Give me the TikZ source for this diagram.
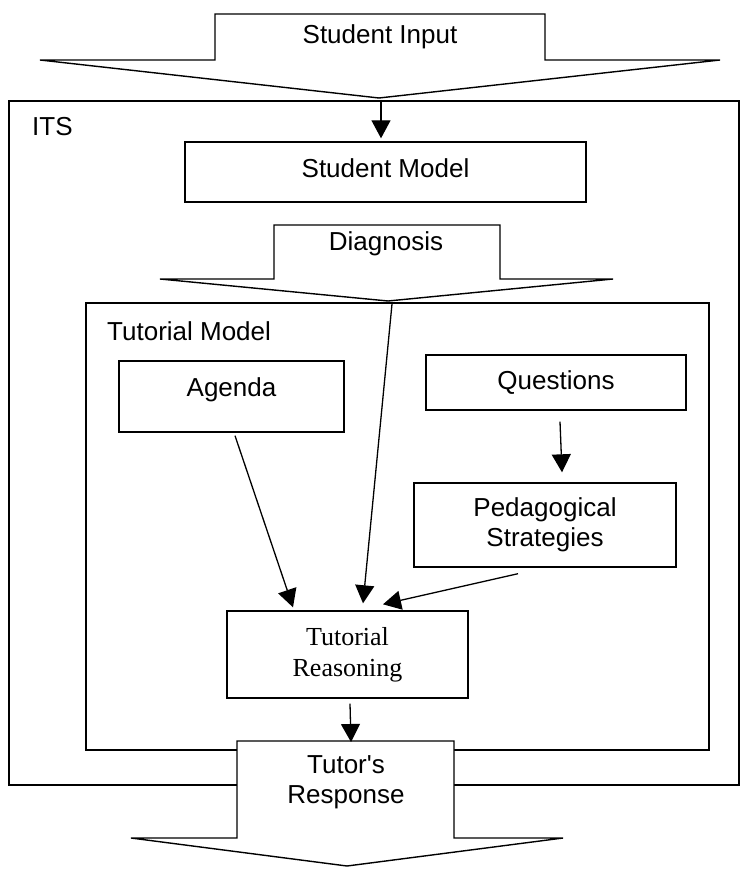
\documentclass[tikz,border=0pt]{standalone}
\usepackage{fontspec}
\setmainfont{Liberation Sans}
\newfontfamily\timesfont{Liberation Serif}
\usetikzlibrary{arrows.meta}

\begin{document}
\begin{tikzpicture}[x=1pt, y=-1pt,
		lbl/.style={font=\fontsize{26}{30}\selectfont, align=center, inner sep=0pt},
		box/.style={lbl, draw, line width=1.4pt, fill=white},
		frame/.style={draw, line width=1.4pt},
		blockarrow/.style={draw, line width=1.4pt, fill=white, line join=miter},
		arr/.style={line width=1.3pt, -{Triangle[length=18pt, width=19pt]}}]
		\useasboundingbox (0,0) rectangle (740,869);
		
		% Student input
		\draw[blockarrow] (215,14) -- (545,14) -- (545,60) -- (720,60) -- (379,98) -- (40,60) -- (215,60) -- cycle;
		\node[lbl] (input) at (380,37) {Student Input};
		\coordinate (inTip) at (381,100);
		
		% ITS frame
		\draw[frame] (9,101) rectangle (739,785);
		\node[lbl, anchor=west] (its) at (32,127) {ITS};
		
		\node[box, minimum width=401pt, text height=35.5pt, text depth=24.5pt] (stmodel) at (385.5,172) {Student Model};
		
		% Diagnosis
		\draw[blockarrow] (274,225) -- (500,225) -- (500,279) -- (613,279) -- (388,301) -- (160,279) -- (274,279) -- cycle;
		\node[lbl] (diag) at (386,244) {Diagnosis};
		\coordinate (diagTip) at (392,304);
		
		% Tutorial model frame
		\draw[frame] (86,303) rectangle (709,750);
		\node[lbl, anchor=west] (tmodel) at (107,331) {Tutorial Model};
		
		\node[box, minimum width=225pt, text height=35.5pt, text depth=35.5pt] (agenda) at (231.5,396.5) {Agenda};
		\node[box, minimum width=260pt, minimum height=55pt] (quest) at (556,382.5) {Questions};
		\node[box, minimum width=262pt, minimum height=84pt] (peda) at (545,525) {Pedagogical\\Strategies};
		\node[box, font=\timesfont\fontsize{26}{31}\selectfont, minimum width=241pt, minimum height=87pt] (treason) at (347.5,654.5) {Tutorial\\Reasoning};
		
		% Connectors
		\draw[arr] (inTip) -- ([shift={(-4.5,-3)}]stmodel.north);
		\draw[arr] ([shift={(4,11)}]quest.south) -- ([shift={(17,-10)}]peda.north);
		\draw[arr] ([shift={(3.5,3)}]agenda.south) -- ([shift={(-54.5,-3)}]treason.north);
		\draw[arr] (diagTip) -- ([shift={(15.5,-7)}]treason.north);
		\draw[arr] ([shift={(-27,6)}]peda.south) -- ([shift={(35.5,-6)}]treason.north);
		
		% Tutor's response
		\draw[blockarrow] (237,741) -- (454,741) -- (454,838) -- (563,838) -- (347,866) -- (131,838) -- (237,838) -- cycle;
		\node[lbl] (resp) at (346,782) {Tutor\textquotesingle s\\Response};
		\coordinate (respTop) at (351,742);
		\draw[arr] ([shift={(2.5,5)}]treason.south) -- (respTop);
	\end{tikzpicture}
\end{document}
